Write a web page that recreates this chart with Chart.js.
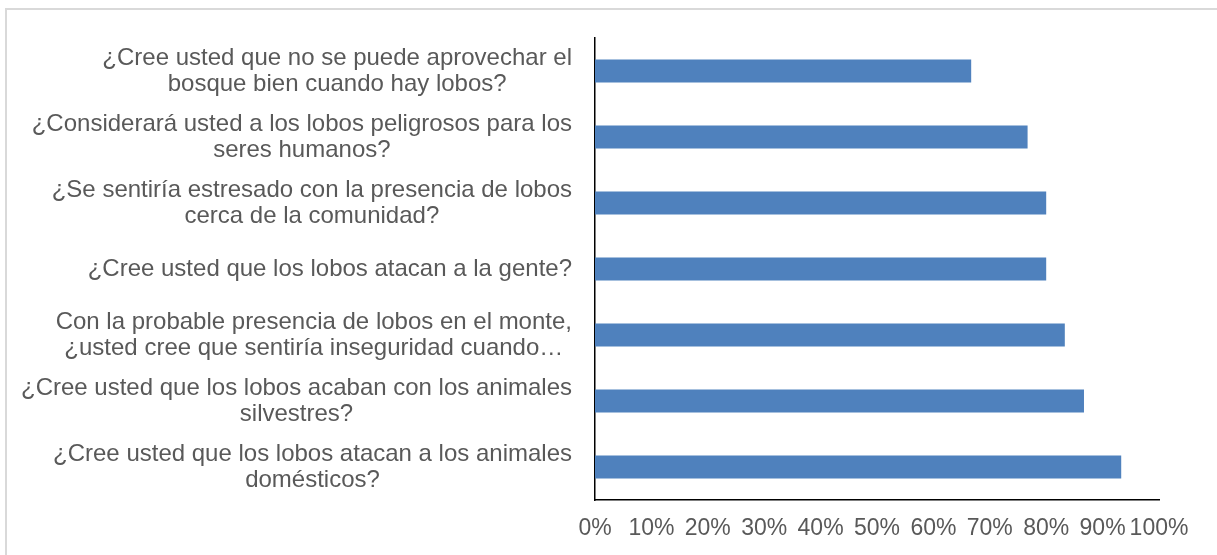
<!DOCTYPE html>
<html>
<head>
<meta charset="utf-8">
<script src="https://cdn.jsdelivr.net/npm/chart.js@4/dist/chart.umd.min.js"></script>
<style>
  html, body { margin: 0; padding: 0; background: #fff; overflow: hidden; }
  #frame {
    position: absolute; left: 5px; top: 8px; width: 1300px; height: 600px;
    border-left: 2px solid #d9d9d9; border-top: 2px solid #d9d9d9;
  }
  #chart { position: absolute; left: 0; top: 0; }
</style>
</head>
<body>
<div id="frame"></div>
<canvas id="chart" width="1217" height="555"></canvas>
<script>
// preguntas, de arriba hacia abajo
const categories = [
	['¿Cree usted que no se puede aprovechar el', 'bosque bien cuando hay lobos?'],
	['¿Considerará usted a los lobos peligrosos para los', 'seres humanos?'],
	['¿Se sentiría estresado con la presencia de lobos', 'cerca de la comunidad?'],
	['¿Cree usted que los lobos atacan a la gente?'],
	['Con la probable presencia de lobos en el monte,', '¿usted cree que sentiría inseguridad cuando…'],
	['¿Cree usted que los lobos acaban con los animales', 'silvestres?'],
	['¿Cree usted que los lobos atacan a los animales', 'domésticos?']
];
const values = [66.7, 76.7, 80, 80, 83.3, 86.7, 93.3];
const xTicks = [0, 10, 20, 30, 40, 50, 60, 70, 80, 90, 100];

const FONT = "'Liberation Sans', Arial, sans-serif";
const TEXT = '#595959';

// Excel centers the lines of a wrapped label, so the y labels are drawn here
const centeredLabels = {
	id: 'centeredLabels',
	afterDraw(chart) {
		const ctx = chart.ctx;
		const y = chart.scales.y;
		const lineH = 26;
		ctx.save();
		ctx.font = '24px ' + FONT;
		ctx.fillStyle = TEXT;
		ctx.textAlign = 'center';
		ctx.textBaseline = 'middle';
		categories.forEach((lines, i) => {
			const w = Math.max(...lines.map(l => ctx.measureText(l).width));
			const cx = y.right - 23 - w / 2;
			const cy = y.getPixelForTick(i);
			lines.forEach((l, k) => {
				ctx.fillText(l, cx, cy + (k - (lines.length - 1) / 2) * lineH);
			});
		});
		ctx.restore();
	}
};

new Chart(document.getElementById('chart'), {
	type: 'bar',
	data: {
		labels: categories,
		datasets: [{
			data: values,
			backgroundColor: '#4f81bd',
			barPercentage: 0.35,
			categoryPercentage: 1
		}]
	},
	options: {
		indexAxis: 'y',
		responsive: false,
		animation: false,
		devicePixelRatio: 1,
		layout: { padding: { left: 0, top: 38, right: 58, bottom: 0 } },
		plugins: {
			legend: { display: false },
			tooltip: { enabled: false }
		},
		scales: {
			x: {
				min: 0,
				max: 100,
				afterFit: s => { s.height = 55; },
				afterBuildTicks: s => { s.ticks = xTicks.map(v => ({ value: v })); },
				grid: { display: false, drawTicks: false },
				border: { color: '#000', width: 1.5 },
				ticks: {
					autoSkip: false,
					maxRotation: 0,
					padding: 15,
					color: TEXT,
					font: { family: FONT, size: 23 },
					callback: v => v + '%'
				}
			},
			y: {
				afterFit: s => { s.width = 595; },
				grid: { display: false, drawTicks: false },
				border: { color: '#000', width: 1.5 },
				ticks: { display: false }
			}
		}
	},
	plugins: [centeredLabels]
});
</script>
</body>
</html>
